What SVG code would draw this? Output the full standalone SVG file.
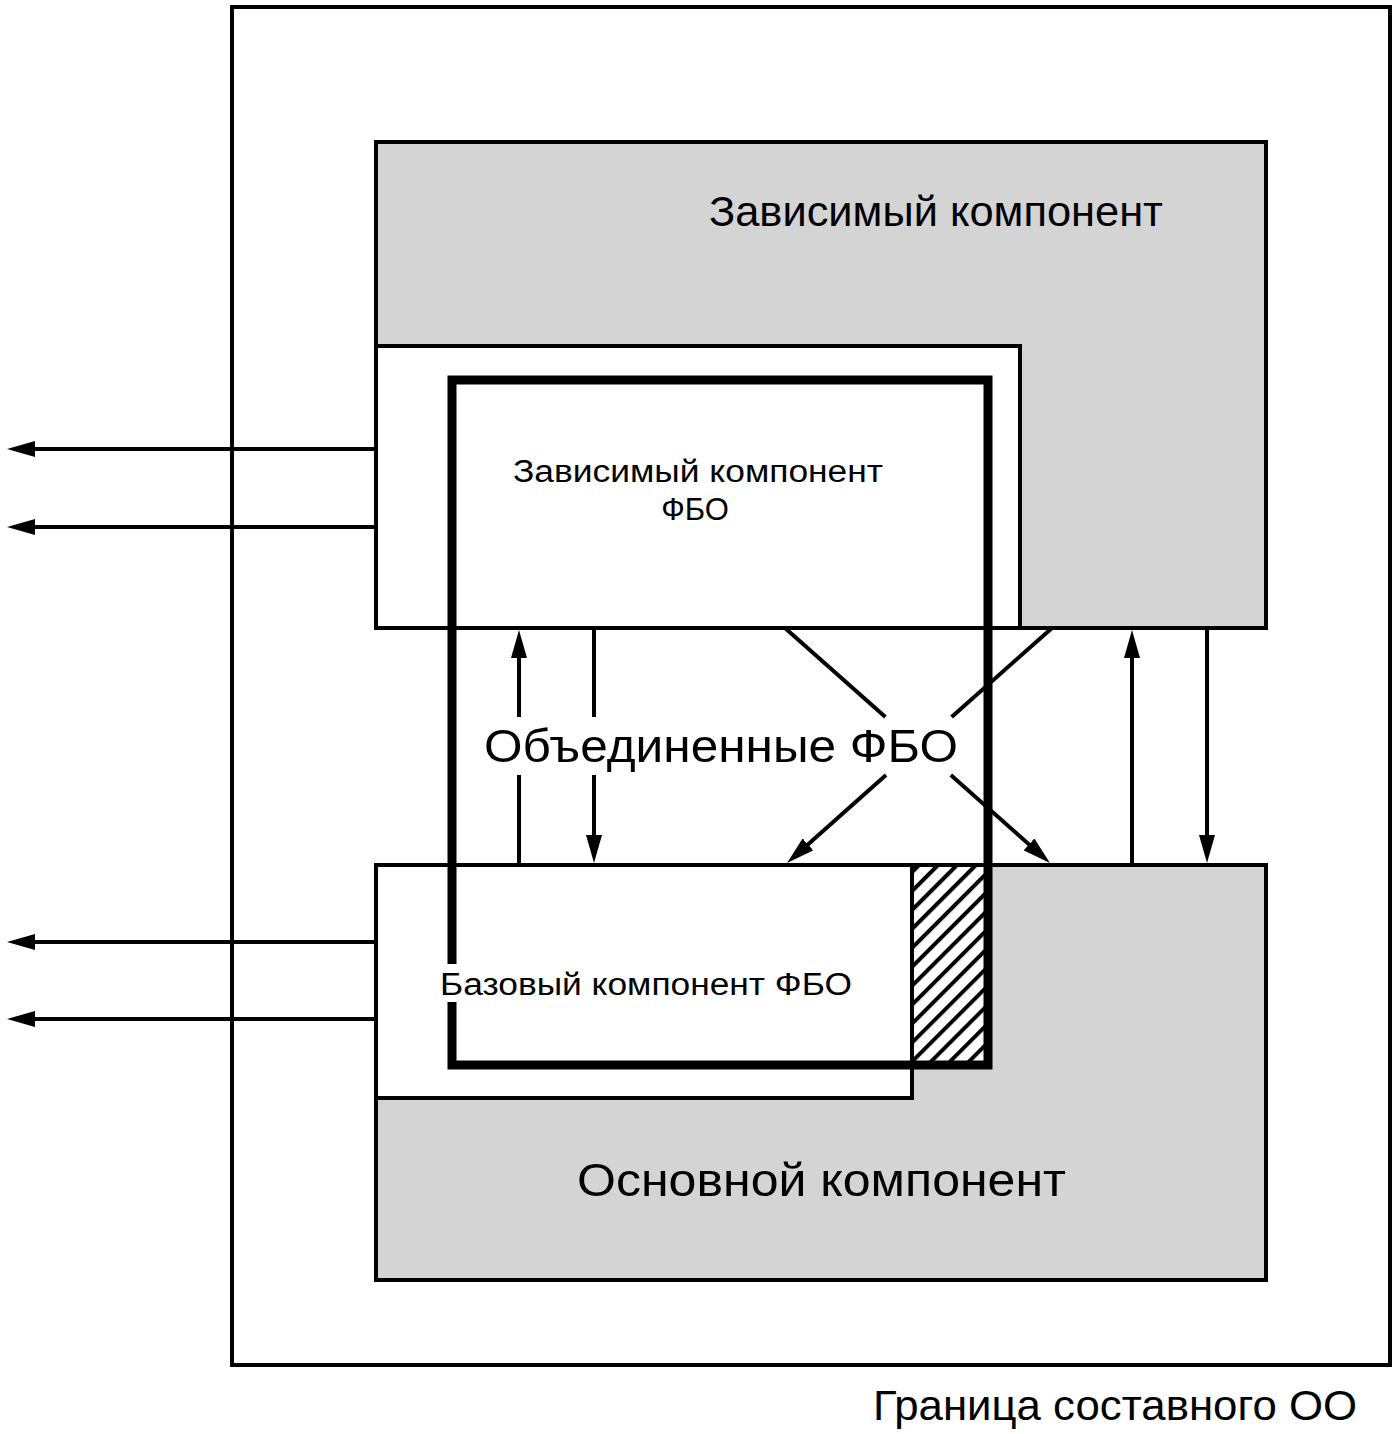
<svg xmlns="http://www.w3.org/2000/svg" width="1400" height="1434" viewBox="0 0 1400 1434">
  <style>
    .frame { fill: none; stroke: #000; stroke-width: 4; }
    .grey { fill: #d4d4d4; stroke: #000; stroke-width: 4; }
    .white { fill: #fff; stroke: #000; stroke-width: 4; }
    .thick { fill: none; stroke: #000; stroke-width: 9; }
    .conn { fill: none; stroke: #000; stroke-width: 4; stroke-linecap: butt; }
    .t { font-family: "Liberation Sans", Arial, sans-serif; fill: #000; }
  </style>
  <defs>
    <marker id="arr" viewBox="0 0 28 16" markerWidth="28" markerHeight="16" markerUnits="userSpaceOnUse" refX="14" refY="8" orient="auto">
      <path d="M0,0 L28,8 L0,16 Z" fill="#000"/>
    </marker>
    <pattern id="hatch" width="13.4" height="13.4" patternUnits="userSpaceOnUse" patternTransform="rotate(45)">
      <rect width="13.4" height="13.4" fill="#fff"/>
      <line x1="2" y1="0" x2="2" y2="13.4" stroke="#000" stroke-width="4"/>
    </pattern>
  </defs>
  <rect width="1400" height="1434" fill="#fff"/>

  <g id="boundary">
    <rect class="frame" x="232" y="7" width="1158" height="1358"/>
    <text class="t" x="873" y="1420" font-size="43" textLength="484" lengthAdjust="spacingAndGlyphs">Граница составного ОО</text>
  </g>

  <g id="dependent-component">
    <rect class="grey" x="376" y="142" width="890" height="486"/>
    <text class="t" x="709" y="226" font-size="42" textLength="454" lengthAdjust="spacingAndGlyphs">Зависимый компонент</text>
  </g>

  <g id="dependent-tsf">
    <rect class="white" x="376" y="346" width="644" height="282"/>
    <text class="t" x="513" y="482" font-size="31" textLength="370" lengthAdjust="spacingAndGlyphs">Зависимый компонент</text>
    <text class="t" x="695" y="520" font-size="31" text-anchor="middle">ФБО</text>
  </g>

  <g id="base-component">
    <rect class="grey" x="376" y="865" width="890" height="415"/>
    <text class="t" x="577" y="1196" font-size="47" textLength="489" lengthAdjust="spacingAndGlyphs">Основной компонент</text>
  </g>

  <g id="base-tsf">
    <rect class="white" x="376" y="865" width="536" height="233"/>
    <rect fill="url(#hatch)" stroke="#000" stroke-width="4" x="912" y="865" width="76" height="200"/>
  </g>

  <g id="connectors">
    <line class="conn" x1="376" y1="449" x2="21" y2="449" marker-end="url(#arr)"/>
    <line class="conn" x1="376" y1="527" x2="21" y2="527" marker-end="url(#arr)"/>
    <line class="conn" x1="376" y1="942" x2="21" y2="942" marker-end="url(#arr)"/>
    <line class="conn" x1="376" y1="1019" x2="21" y2="1019" marker-end="url(#arr)"/>

    <line class="conn" x1="519" y1="865" x2="519" y2="775"/>
    <line class="conn" x1="519" y1="717" x2="519" y2="644" marker-end="url(#arr)"/>
    <line class="conn" x1="594" y1="628" x2="594" y2="717"/>
    <line class="conn" x1="594" y1="775" x2="594" y2="849" marker-end="url(#arr)"/>

    <line class="conn" x1="1132" y1="865" x2="1132" y2="644" marker-end="url(#arr)"/>
    <line class="conn" x1="1207" y1="628" x2="1207" y2="849" marker-end="url(#arr)"/>

    <line class="conn" x1="785" y1="628" x2="885.4" y2="717"/>
    <line class="conn" x1="950.8" y1="775" x2="1039.5" y2="853.7" marker-end="url(#arr)"/>
    <line class="conn" x1="1052" y1="628" x2="951.6" y2="717"/>
    <line class="conn" x1="886" y1="775" x2="797.5" y2="853.7" marker-end="url(#arr)"/>
  </g>

  <g id="combined-tsf">
    <rect class="thick" x="452" y="380" width="536" height="685"/>
    <text class="t" x="484" y="762" font-size="47" textLength="474" lengthAdjust="spacingAndGlyphs">Объединенные ФБО</text>
  </g>

  <g id="base-tsf-label">
    <rect x="440" y="964" width="22" height="38" fill="#fff"/>
    <text class="t" x="440" y="995" font-size="31" textLength="412" lengthAdjust="spacingAndGlyphs">Базовый компонент ФБО</text>
  </g>
</svg>
